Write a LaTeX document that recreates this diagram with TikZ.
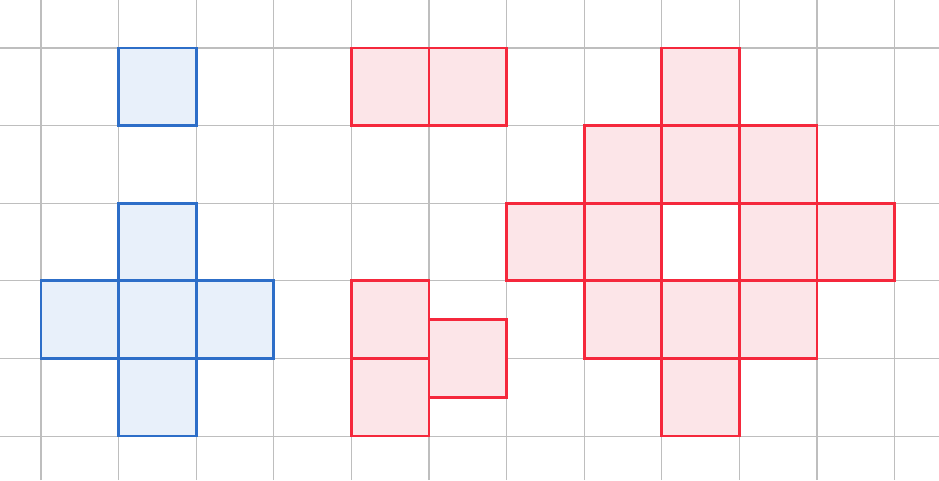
\documentclass[tikz,border=0pt]{standalone}
\usetikzlibrary{positioning}
\definecolor{gridgray}{RGB}{190,190,190}
\definecolor{blueline}{RGB}{45,110,200}
\definecolor{bluefill}{RGB}{232,240,250}
\definecolor{redline}{RGB}{245,40,60}
\definecolor{redfill}{RGB}{252,229,232}
\tikzstyle{bluecell}=[draw = blueline, fill = bluefill, line width = 1pt]
\tikzstyle{redcell}=[draw = redline, fill = redfill, line width = 1pt]
\tikzstyle{gridline}=[draw = gridgray, line width = 0.4pt]

\begin{document}
\begin{tikzpicture}
\useasboundingbox (-0.528,-0.567) rectangle (11.572,5.619);
\fill[white] (-0.528,-0.567) rectangle (11.572,5.619);
%
\foreach \x in {0,...,11}
  \draw[gridline] (\x,-0.567) -- (\x,5.619);
\foreach \y in {0,...,5}
  \draw[gridline] (-0.528,\y) -- (11.572,\y);
%
% single blue cell and the blue cross
\foreach \x/\y in {1/4, 1/2, 0/1, 1/1, 2/1, 1/0}
  \draw[bluecell] (\x,\y) rectangle ++(1,1);
%
% red domino and the red tromino
\foreach \x/\y in {4/4, 5/4, 4/1, 4/0, 5/0.5}
  \draw[redcell] (\x,\y) rectangle ++(1,1);
%
% red ring with a hole
\foreach \x/\y in {8/4, 7/3, 8/3, 9/3, 6/2, 7/2, 9/2, 10/2, 7/1, 8/1, 9/1, 8/0}
  \draw[redcell] (\x,\y) rectangle ++(1,1);
\end{tikzpicture}
\end{document}
